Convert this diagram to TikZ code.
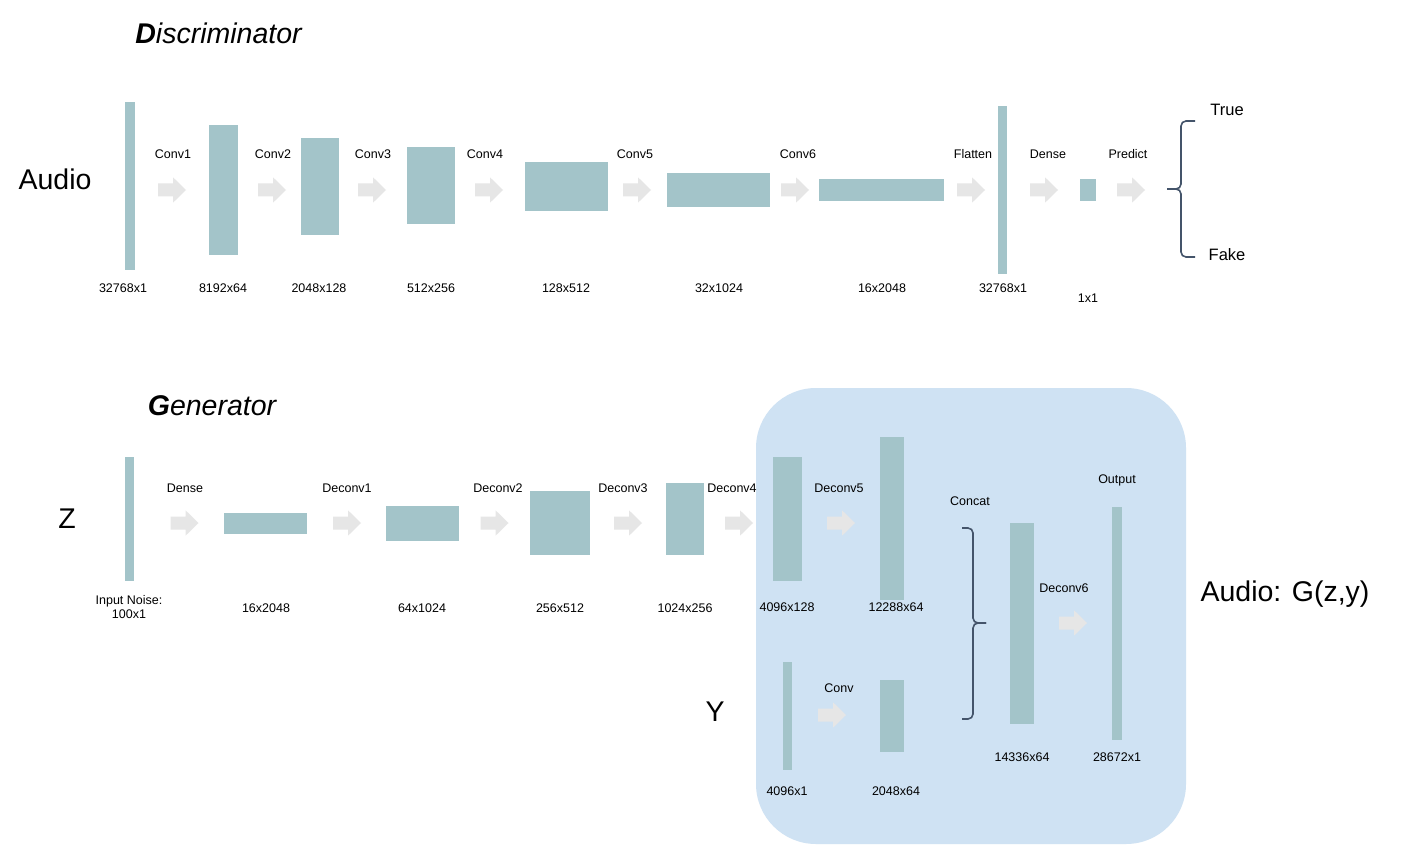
\documentclass[tikz,border=0pt]{standalone}
\usepackage{fontspec}
\setmainfont{Liberation Sans}
\definecolor{blkc}{RGB}{163,196,201}
\definecolor{arrowc}{RGB}{230,230,230}
\definecolor{boxblue}{RGB}{207,226,243}
\definecolor{bracec}{RGB}{68,84,106}
\tikzset{
  blk/.style={fill=blkc, draw=none, inner sep=0pt},
  lbl/.style={inner sep=0pt, yshift=-1pt, font=\fontsize{12.5}{15}\selectfont},
  big/.style={inner sep=0pt, font=\fontsize{28.5}{32}\selectfont},
  mid/.style={inner sep=0pt, yshift=-1pt, font=\fontsize{16.5}{19}\selectfont},
  bracestyle/.style={draw=bracec, line width=1.6pt, rounded corners=5pt},
  barrow/.pic={\fill[arrowc] (-14,-6.5) -- (1,-6.5) -- (1,-12.7) -- (14,0) -- (1,12.7) -- (1,6.5) -- (-14,6.5) -- cycle;}
}
\begin{document}
\begin{tikzpicture}[x=1pt,y=-1pt]
\useasboundingbox (0,0) rectangle (1418,845);
\fill[white] (0,0) rectangle (1418,845);

% ---------------- Discriminator ----------------
\node (dtitle) at (218.5,33) {\fontsize{28.5}{32}\selectfont\itshape\bfseries D\mdseries iscriminator};
\node[big] (audioin) at (55,179) {Audio};

\node[blk, minimum width=10pt, minimum height=168pt] (d0) at (130,186) {};
\node[blk, minimum width=29pt, minimum height=130pt] (d1) at (223.5,190) {};
\node[blk, minimum width=38pt, minimum height=97pt] (d2) at (320,186.5) {};
\node[blk, minimum width=48pt, minimum height=77pt] (d3) at (431,185.5) {};
\node[blk, minimum width=83pt, minimum height=49pt] (d4) at (566.5,186.5) {};
\node[blk, minimum width=103pt, minimum height=34pt] (d5) at (718.5,190) {};
\node[blk, minimum width=125pt, minimum height=22pt] (d6) at (881.5,190) {};
\node[blk, minimum width=9pt, minimum height=168pt] (d7) at (1002.5,190) {};
\node[blk, minimum width=16pt, minimum height=22pt] (d8) at (1088,190) {};

\pic (da1) at (172,190) {barrow};
\pic (da2) at (272,190) {barrow};
\pic (da3) at (372,190) {barrow};
\pic (da4) at (489,190) {barrow};
\pic (da5) at (637,190) {barrow};
\pic (da6) at (795,190) {barrow};
\pic (da7) at (971,190) {barrow};
\pic (da8) at (1044,190) {barrow};
\pic (da9) at (1131,190) {barrow};

\node[lbl] (dl1) at (173,153) {Conv1};
\node[lbl] (dl2) at (273,153) {Conv2};
\node[lbl] (dl3) at (373,153) {Conv3};
\node[lbl] (dl4) at (485,153) {Conv4};
\node[lbl] (dl5) at (635,153) {Conv5};
\node[lbl] (dl6) at (798,153) {Conv6};
\node[lbl] (dl7) at (973,153) {Flatten};
\node[lbl] (dl8) at (1048,153) {Dense};
\node[lbl] (dl9) at (1128,153) {Predict};

\node[lbl] (ds0) at (123,287) {32768x1};
\node[lbl] (ds1) at (223,287) {8192x64};
\node[lbl] (ds2) at (319,287) {2048x128};
\node[lbl] (ds3) at (431,287) {512x256};
\node[lbl] (ds4) at (566,287) {128x512};
\node[lbl] (ds5) at (719,287) {32x1024};
\node[lbl] (ds6) at (882,287) {16x2048};
\node[lbl] (ds7) at (1003,287) {32768x1};
\node[lbl] (ds8) at (1088,297) {1x1};

\draw[bracestyle] (1195,121) -| (1181,189) -- (1167,189);
\draw[bracestyle] (1167,189) -- (1181,189) |- (1195,257);
\node[mid] (true) at (1227,109) {True};
\node[mid] (fake) at (1227,254) {Fake};

% ---------------- Generator ----------------
\node (gtitle) at (212,406) {\fontsize{28.5}{32}\selectfont\itshape\bfseries G\mdseries enerator};
\node[fill=boxblue, draw=none, rounded corners=60pt, minimum width=430pt, minimum height=456pt, inner sep=0pt] (gbox) at (971,616) {};

\node[big] (zin) at (67,519) {Z};
\node[big] (yin) at (715,712) {Y};
\node[big] (gout) at (1285,594) {Audio: G(z,y)};

\node[blk, minimum width=9pt, minimum height=124pt] (g0) at (129.5,519) {};
\node[blk, minimum width=83pt, minimum height=21pt] (g1) at (265.5,523.5) {};
\node[blk, minimum width=73pt, minimum height=35pt] (g2) at (422.5,523.5) {};
\node[blk, minimum width=60pt, minimum height=64pt] (g3) at (560,523) {};
\node[blk, minimum width=38pt, minimum height=72pt] (g4) at (685,519) {};
\node[blk, minimum width=29pt, minimum height=124pt] (g5) at (787.5,519) {};
\node[blk, minimum width=24pt, minimum height=163pt] (g6) at (892,518.5) {};
\node[blk, minimum width=9pt, minimum height=108pt] (y0) at (787.5,716) {};
\node[blk, minimum width=24pt, minimum height=72pt] (y1) at (892,716) {};
\node[blk, minimum width=24pt, minimum height=201pt] (c0) at (1022,623.5) {};
\node[blk, minimum width=10pt, minimum height=233pt] (o0) at (1117,623.5) {};

\pic (ga1) at (184.5,523) {barrow};
\pic (ga2) at (347,523) {barrow};
\pic (ga3) at (494.5,523) {barrow};
\pic (ga4) at (628,523) {barrow};
\pic (ga5) at (739,523) {barrow};
\pic (ga6) at (841,523) {barrow};
\pic (ga7) at (832,715) {barrow};
\pic (ga8) at (1073,623) {barrow};

\node[lbl] (gl1) at (185,487) {Dense};
\node[lbl] (gl2) at (347,487) {Deconv1};
\node[lbl] (gl3) at (498,487) {Deconv2};
\node[lbl] (gl4) at (623,487) {Deconv3};
\node[lbl] (gl5) at (732,487) {Deconv4};
\node[lbl] (gl6) at (839,487) {Deconv5};
\node[lbl] (gl7) at (839,687) {Conv};
\node[lbl] (gl8) at (970,500) {Concat};
\node[lbl] (gl9) at (1064,587) {Deconv6};
\node[lbl] (gl10) at (1117,479) {Output};

\node[lbl, align=center] (gs0) at (129,606) {Input Noise:\\[-0.5pt]100x1};
\node[lbl] (gs1) at (266,607) {16x2048};
\node[lbl] (gs2) at (422,607) {64x1024};
\node[lbl] (gs3) at (560,607) {256x512};
\node[lbl] (gs4) at (685,607) {1024x256};
\node[lbl] (gs5) at (787,606) {4096x128};
\node[lbl] (gs6) at (896,606) {12288x64};
\node[lbl] (gs7) at (787,790) {4096x1};
\node[lbl] (gs8) at (896,790) {2048x64};
\node[lbl] (gs9) at (1022,756) {14336x64};
\node[lbl] (gs10) at (1117,756) {28672x1};

\draw[bracestyle] (962,528) -| (973,623) -- (986,623);
\draw[bracestyle] (986,623) -- (973,623) |- (962,719);
\end{tikzpicture}
\end{document}
